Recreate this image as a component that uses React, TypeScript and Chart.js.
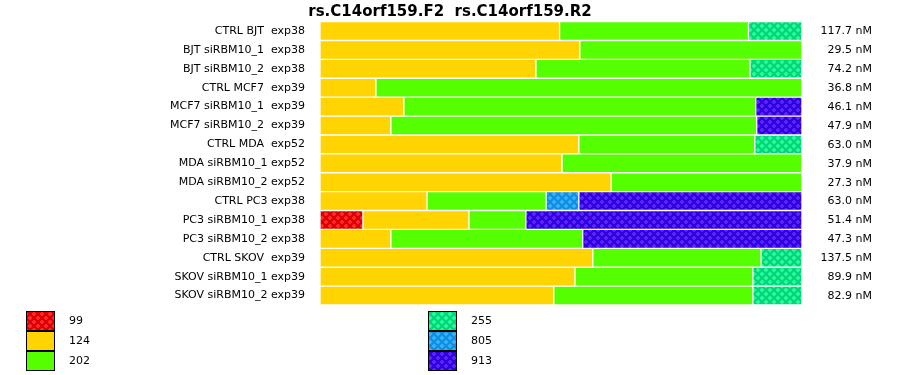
import React, { useEffect, useRef } from "react";
import { Chart, registerables } from "chart.js";

Chart.register(...registerables);

const TITLE = "rs.C14orf159.F2  rs.C14orf159.R2";

const categories = [
  "CTRL BJT  exp38",
  "BJT siRBM10_1  exp38",
  "BJT siRBM10_2  exp38",
  "CTRL MCF7  exp39",
  "MCF7 siRBM10_1  exp39",
  "MCF7 siRBM10_2  exp39",
  "CTRL MDA  exp52",
  "MDA siRBM10_1 exp52",
  "MDA siRBM10_2 exp52",
  "CTRL PC3 exp38",
  "PC3 siRBM10_1 exp38",
  "PC3 siRBM10_2 exp38",
  "CTRL SKOV  exp39",
  "SKOV siRBM10_1 exp39",
  "SKOV siRBM10_2 exp39",
];

const concentrations = [
  "117.7 nM", "29.5 nM", "74.2 nM", "36.8 nM", "46.1 nM", "47.9 nM", "63.0 nM",
  "37.9 nM", "27.3 nM", "63.0 nM", "51.4 nM", "47.3 nM", "137.5 nM", "89.9 nM", "82.9 nM",
];

const seriesNames = ["99", "124", "202", "255", "805", "913"];

// percent of each row
const s99 = [null, null, null, null, null, null, null, null, null, null, 8.9, null, null, null, null];
const s124 = [49.7, 53.9, 44.8, 11.6, 17.4, 14.7, 53.7, 50.2, 60.4, 22.2, 22.0, 14.7, 56.6, 52.9, 48.5];
const s202 = [39.2, 46.1, 44.4, 88.4, 73.0, 75.9, 36.5, 49.8, 39.6, 24.7, 11.8, 39.8, 34.9, 36.9, 41.3];
const s255 = [11.1, null, 10.8, null, null, null, 9.8, null, null, null, null, null, 8.5, 10.2, 10.2];
const s805 = [null, null, null, null, null, null, null, null, null, 6.8, null, null, null, null, null];
const s913 = [null, null, null, null, 9.6, 9.4, null, null, null, 46.3, 57.3, 45.5, null, null, null];

const seriesData = [s99, s124, s202, s255, s805, s913];

const baseColors = ["#DD0000", "#FFD400", "#55FF00", "#00D97A", "#1190E0", "#3300DD"];
const dotColors = ["#FF2A2A", null, null, "#2EF59C", "#35AEFF", "#5526FF"];

function makeFill(base: string, dot: string | null): string | CanvasPattern {
  if (!dot) return base;
  const c = document.createElement("canvas");
  c.width = 8;
  c.height = 8;
  const g = c.getContext("2d")!;
  g.fillStyle = base;
  g.fillRect(0, 0, 8, 8);
  g.fillStyle = dot;
  for (const [cx, cy] of [[2, 2], [6, 6]]) {
    g.fillRect(cx - 1, cy - 2, 2, 4);
    g.fillRect(cx - 2, cy - 1, 4, 2);
  }
  return g.createPattern(c, "repeat") || base;
}

const FONT = '"DejaVu Sans", sans-serif';

export default function App() {
  const ref = useRef<HTMLCanvasElement | null>(null);

  useEffect(() => {
    const canvas = ref.current;
    if (!canvas) return;
    const fills = baseColors.map((b, i) => makeFill(b, dotColors[i]));

    const overlay = {
      id: "overlay",
      afterDraw(chart: any) {
        const ctx = chart.ctx as CanvasRenderingContext2D;
        const yScale = chart.scales.y;
        ctx.save();
        // title
        ctx.fillStyle = "#000";
        ctx.font = `bold 15px ${FONT}`;
        ctx.textAlign = "center";
        ctx.textBaseline = "alphabetic";
        ctx.fillText(TITLE, 450, 16);
        // right labels
        ctx.font = `11px ${FONT}`;
        ctx.textAlign = "right";
        ctx.textBaseline = "middle";
        concentrations.forEach((t, i) => {
          ctx.fillText(t, 872, yScale.getPixelForValue(i) + 0.5);
        });
        // legend
        ctx.textAlign = "left";
        seriesNames.forEach((name, i) => {
          const col = Math.floor(i / 3);
          const row = i % 3;
          const bx = col === 0 ? 26 : 428;
          const by = 311 + row * 20;
          ctx.fillStyle = fills[i] as any;
          ctx.fillRect(bx, by, 29, 20);
          ctx.strokeStyle = "#000";
          ctx.lineWidth = 1;
          ctx.strokeRect(bx + 0.5, by + 0.5, 28, 19);
          ctx.fillStyle = "#000";
          ctx.fillText(name, bx + 43, by + 10.5);
        });
        ctx.restore();
      },
    };

    const chart = new Chart(canvas, {
      type: "bar",
      data: {
        labels: categories,
        datasets: seriesNames.map((n, i) => ({
          label: n,
          data: seriesData[i] as any,
          backgroundColor: fills[i] as any,
          borderColor: "#ffffff",
          borderWidth: 1,
          borderSkipped: false,
          barPercentage: 1,
          categoryPercentage: 1,
        })),
      },
      options: {
        indexAxis: "y",
        responsive: false,
        animation: false,
        devicePixelRatio: 1,
        layout: { padding: { top: 20, bottom: 70, left: 0, right: 98 } },
        plugins: {
          legend: { display: false },
          title: { display: false },
          tooltip: { enabled: false },
        },
        scales: {
          x: { stacked: true, min: 0, max: 100, display: false },
          y: {
            stacked: true,
            grid: { display: false, drawTicks: false },
            border: { display: false },
            ticks: {
              font: { family: FONT, size: 11 },
              color: "#000",
              padding: 15,
              autoSkip: false,
            },
            afterFit: (s: any) => {
              s.width = 320;
            },
          },
        },
      },
      plugins: [overlay],
    } as any);

    return () => chart.destroy();
  }, []);

  return (
    <div style={{ position: "fixed", left: 0, top: 0, width: 900, height: 375, background: "#fff" }}>
      <canvas ref={ref} width={900} height={375} />
    </div>
  );
}
